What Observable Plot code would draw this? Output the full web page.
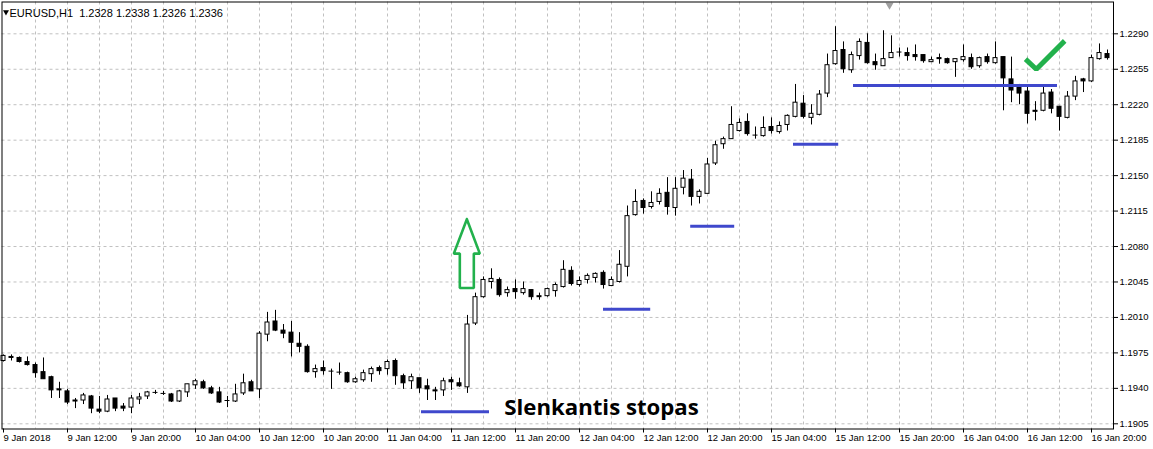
<!DOCTYPE html>
<html><head><meta charset="utf-8">
<script src="https://cdn.jsdelivr.net/npm/d3@7"></script>
<script src="https://cdn.jsdelivr.net/npm/@observablehq/plot@0.6"></script>
<style>
html,body{margin:0;padding:0;background:#fff;}
#chart svg{display:block}
</style>
</head><body><div id="chart"></div>
<script>
// EURUSD H1 candles, bar index 0 = 9 Jan 2018 04:00
const open = [1.1967,1.1971,1.1970,1.1966,1.1963,1.1956,1.1951,1.1939,1.1937,1.1928,
1.1928,1.1932,1.1919,1.1917,1.1930,1.1922,1.1921,1.1929,1.1932,1.1936,
1.1935,1.1934,1.1927,1.1936,1.1943,1.1946,1.1940,1.1936,1.1928,1.1927,
1.1935,1.1946,1.1939,1.1993,1.2006,1.1997,1.1995,1.1984,1.1981,1.1956,
1.1960,1.1957,1.1956,1.1955,1.1946,1.1948,1.1954,1.1960,1.1959,1.1967,
1.1952,1.1947,1.1950,1.1942,1.1938,1.1938,1.1948,1.1945,1.1941,1.2004,
1.2030,1.2045,1.2047,1.2034,1.2038,1.2034,1.2037,1.2030,1.2031,1.2036,
1.2040,1.2056,1.2042,1.2047,1.2049,1.2054,1.2041,1.2045,1.2060,1.2111,
1.2125,1.2119,1.2124,1.2133,1.2118,1.2138,1.2146,1.2129,1.2132,1.2162,
1.2181,1.2186,1.2194,1.2203,1.2190,1.2189,1.2198,1.2193,1.2200,1.2208,
1.2221,1.2207,1.2210,1.2231,1.2260,1.2274,1.2254,1.2268,1.2281,1.2262,
1.2258,1.2266,1.2272,1.2271,1.2269,1.2269,1.2262,1.2266,1.2265,1.2262,
1.2264,1.2266,1.2258,1.2267,1.2261,1.2267,1.2245,1.2237,1.2233,1.2214,
1.2214,1.2232,1.2218,1.2207,1.2228,1.2245,1.2243,1.2265,1.2270];
const high = [1.1973,1.1973,1.1971,1.1971,1.1965,1.1970,1.1952,1.1946,1.1939,1.1930,
1.1935,1.1933,1.1932,1.1933,1.1930,1.1925,1.1933,1.1935,1.1937,1.1938,
1.1937,1.1935,1.1938,1.1944,1.1949,1.1948,1.1942,1.1941,1.1932,1.1944,
1.1954,1.1948,1.1996,1.2015,1.2017,1.2003,1.2006,1.1995,1.1983,1.1963,
1.1967,1.1959,1.1965,1.1956,1.1951,1.1958,1.1961,1.1962,1.1968,1.1969,
1.1954,1.1954,1.1950,1.1949,1.1941,1.1950,1.1951,1.1950,1.2012,1.2034,
1.2050,1.2058,1.2049,1.2040,1.2047,1.2045,1.2037,1.2034,1.2039,1.2044,
1.2066,1.2060,1.2050,1.2053,1.2054,1.2056,1.2050,1.2076,1.2120,1.2136,
1.2127,1.2134,1.2137,1.2148,1.2148,1.2155,1.2156,1.2136,1.2167,1.2184,
1.2188,1.2218,1.2206,1.2211,1.2198,1.2208,1.2207,1.2203,1.2210,1.2240,
1.2229,1.2220,1.2234,1.2270,1.2297,1.2282,1.2272,1.2285,1.2290,1.2270,
1.2293,1.2288,1.2276,1.2276,1.2279,1.2269,1.2267,1.2270,1.2266,1.2265,
1.2279,1.2270,1.2267,1.2270,1.2282,1.2267,1.2267,1.2240,1.2237,1.2223,
1.2238,1.2235,1.2218,1.2233,1.2248,1.2246,1.2269,1.2280,1.2274];
const low = [1.1966,1.1967,1.1965,1.1962,1.1950,1.1949,1.1930,1.1930,1.1924,1.1920,
1.1924,1.1915,1.1915,1.1916,1.1917,1.1917,1.1915,1.1924,1.1929,1.1934,
1.1933,1.1926,1.1926,1.1931,1.1939,1.1939,1.1934,1.1925,1.1921,1.1926,
1.1933,1.1937,1.1930,1.1986,1.1996,1.1989,1.1971,1.1975,1.1955,1.1950,
1.1953,1.1939,1.1953,1.1945,1.1945,1.1946,1.1946,1.1953,1.1953,1.1943,
1.1939,1.1939,1.1935,1.1928,1.1928,1.1932,1.1938,1.1941,1.1935,1.2002,
1.2029,1.2038,1.2030,1.2030,1.2028,1.2032,1.2027,1.2027,1.2030,1.2030,
1.2039,1.2041,1.2040,1.2043,1.2044,1.2038,1.2041,1.2044,1.2050,1.2110,
1.2112,1.2117,1.2121,1.2111,1.2110,1.2131,1.2120,1.2122,1.2132,1.2160,
1.2176,1.2186,1.2193,1.2189,1.2186,1.2188,1.2191,1.2191,1.2194,1.2207,
1.2206,1.2200,1.2209,1.2227,1.2259,1.2251,1.2251,1.2264,1.2260,1.2254,
1.2258,1.2266,1.2267,1.2263,1.2263,1.2261,1.2262,1.2260,1.2260,1.2247,
1.2262,1.2255,1.2256,1.2260,1.2260,1.2214,1.2222,1.2220,1.2201,1.2204,
1.2213,1.2211,1.2194,1.2206,1.2224,1.2232,1.2242,1.2264,1.2264];
const close = [1.1972,1.1970,1.1966,1.1963,1.1955,1.1949,1.1938,1.1938,1.1926,1.1927,
1.1933,1.1920,1.1917,1.1929,1.1920,1.1920,1.1930,1.1931,1.1936,1.1936,
1.1935,1.1927,1.1937,1.1944,1.1947,1.1940,1.1935,1.1926,1.1928,1.1934,
1.1945,1.1937,1.1994,1.2005,1.1997,1.1994,1.1985,1.1981,1.1956,1.1959,
1.1957,1.1957,1.1956,1.1946,1.1949,1.1955,1.1959,1.1957,1.1966,1.1952,
1.1945,1.1951,1.1940,1.1939,1.1937,1.1947,1.1946,1.1942,1.2003,1.2030,
1.2047,1.2048,1.2032,1.2037,1.2035,1.2038,1.2030,1.2031,1.2038,1.2042,
1.2057,1.2043,1.2046,1.2051,1.2053,1.2042,1.2047,1.2062,1.2110,1.2124,
1.2118,1.2123,1.2132,1.2119,1.2137,1.2147,1.2129,1.2134,1.2161,1.2180,
1.2186,1.2200,1.2202,1.2191,1.2190,1.2197,1.2194,1.2199,1.2209,1.2222,
1.2208,1.2211,1.2230,1.2259,1.2273,1.2255,1.2269,1.2282,1.2261,1.2259,
1.2265,1.2271,1.2272,1.2268,1.2267,1.2263,1.2264,1.2265,1.2261,1.2265,
1.2267,1.2257,1.2266,1.2262,1.2266,1.2246,1.2234,1.2231,1.2211,1.2213,
1.2231,1.2216,1.2208,1.2228,1.2243,1.2243,1.2266,1.2271,1.2266];

const timeTickBars = [0,8,16,24,32,40,48,56,64,72,80,88,96,104,112,120,128,136];
const timeTickLabels = ["9 Jan 2018","9 Jan 12:00","9 Jan 20:00","10 Jan 04:00","10 Jan 12:00",
"10 Jan 20:00","11 Jan 04:00","11 Jan 12:00","11 Jan 20:00","12 Jan 04:00","12 Jan 12:00",
"12 Jan 20:00","15 Jan 04:00","15 Jan 12:00","15 Jan 20:00","16 Jan 04:00","16 Jan 12:00","16 Jan 20:00"];
const gridBars = d3.range(4, 137, 4);
const priceTicks = [1.1905,1.1940,1.1975,1.2010,1.2045,1.2080,1.2115,1.2150,1.2185,1.2220,1.2255,1.2290];

// trailing-stop levels drawn on the chart
const stopStartBar = [52.25, 75, 85.9, 98.75, 106.25];
const stopEndBar   = [60.75, 80.9, 91.4, 104.4, 131.75];
const stopPrice    = [1.1917, 1.2018, 1.2100, 1.2181, 1.2239];

// hollow up arrow outline (bar index, price)
const arrowBar   = [57.92, 59.54, 58.79, 58.79, 57.04, 57.04, 56.29, 57.92];
const arrowPrice = [1.2107, 1.2073, 1.2073, 1.2039, 1.2039, 1.2073, 1.2073, 1.2107];
// check mark
const checkBar   = [127.75, 129.1, 132.65];
const checkPrice = [1.2265, 1.2255, 1.2283];

const headerText = "EURUSD,H1  1.2328 1.2338 1.2326 1.2336";
const noteText = "Slenkantis stopas";
const noteBar = 62.6, notePrice = 1.1914;
const shiftMarkerBar = 110.75;

const candles = open.map((o, i) => ({i, o, h: high[i], l: low[i], c: close[i]}));
const dojis = candles.filter(d => d.o === d.c);
const stops = stopPrice.map((p, k) => ({p, a: stopStartBar[k], b: stopEndBar[k]}));
const arrow = arrowBar.map((x, k) => ({x, y: arrowPrice[k]}));
const check = checkBar.map((x, k) => ({x, y: checkPrice[k]}));
const tickLabel = new Map(timeTickBars.map((b, k) => [b, timeTickLabels[k]]));

const chart = Plot.plot({
  width: 1153,
  height: 449,
  marginLeft: 1.5,
  marginRight: 40,
  marginTop: 1.5,
  marginBottom: 20.5,
  style: {fontFamily: "'Liberation Sans', Arial, sans-serif", fontSize: "9.5px", color: "black", background: "white"},
  x: {domain: [-0.1875, 138.75]},
  y: {domain: [1.189987, 1.232139]},
  color: {type: "identity"},
  marks: [
    Plot.ruleY(priceTicks, {y: d => d, stroke: "#c0c0c0", strokeDasharray: "3,3"}),
    Plot.ruleX(gridBars, {x: d => d, stroke: "#c0c0c0", strokeDasharray: "3,3"}),
    Plot.ruleX(candles, {x: "i", y1: "l", y2: "h", stroke: "black"}),
    Plot.rect(candles, {x1: d => d.i - 0.25, x2: d => d.i + 0.25, y1: "o", y2: "c",
      fill: d => d.c >= d.o ? "white" : "black", stroke: "black"}),
    Plot.ruleY(dojis, {y: "c", x1: d => d.i - 0.31, x2: d => d.i + 0.31, stroke: "black"}),
    Plot.ruleY(stops, {y: "p", x1: "a", x2: "b", stroke: "#3f48cc", strokeWidth: 3}),
    Plot.line(arrow, {x: "x", y: "y", stroke: "#22b14c", strokeWidth: 2.6, strokeLinejoin: "miter"}),
    Plot.line(check, {x: "x", y: "y", stroke: "#22b14c", strokeWidth: 5, strokeLinejoin: "miter", strokeLinecap: "butt"}),
    Plot.text([noteText], {x: () => noteBar, y: () => notePrice, text: d => d, textAnchor: "start", lineAnchor: "bottom",
      fontFamily: "'Open Sans', sans-serif", fontWeight: "bold", fontSize: 22.2, fill: "black"}),
    Plot.text([headerText], {frameAnchor: "top-left", text: d => d, dx: 7.5, dy: 7, textAnchor: "start", lineAnchor: "top",
      fontSize: 11, fill: "black", style: "white-space:pre"}),
    Plot.dot([0], {frameAnchor: "top-left", dx: 4, dy: 10, symbol: "triangle", rotate: 180, r: 2.2, fill: "black", stroke: "none"}),
    Plot.dot([shiftMarkerBar], {x: d => d, frameAnchor: "top", dy: 3, symbol: "triangle", rotate: 180, r: 3, fill: "#a0a0a0", stroke: "none"}),
    Plot.frame({stroke: "black"}),
    Plot.axisX(timeTickBars, {anchor: "bottom", tickSize: 4, tickPadding: 1.5, textAnchor: "start", label: null,
      tickFormat: d => tickLabel.get(d)}),
    Plot.axisY(priceTicks, {anchor: "right", tickSize: 4, tickPadding: 2, label: null, tickFormat: d3.format(".4f")})
  ]
});
document.getElementById("chart").appendChild(chart);
</script>
</body></html>
